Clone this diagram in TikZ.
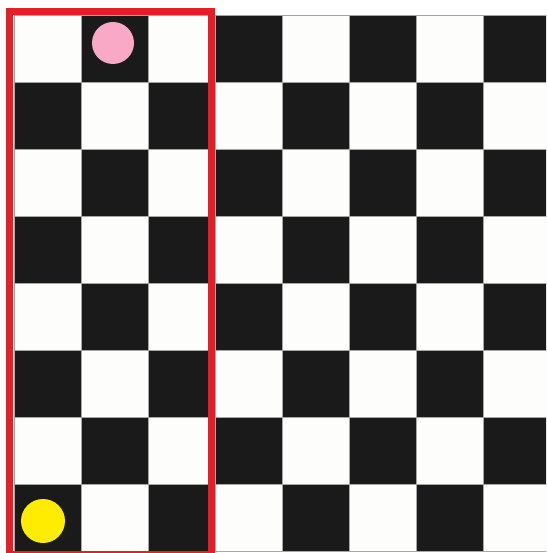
\documentclass[tikz,border=0pt]{standalone}
\definecolor{sqblack}{HTML}{1A1A1A}
\definecolor{sqwhite}{HTML}{FDFDFB}
\definecolor{boxred}{HTML}{E61E28}
\definecolor{pinkdot}{HTML}{F9A8C6}
\definecolor{yellowdot}{HTML}{FFEC00}
\begin{document}
\begin{tikzpicture}[x=1pt,y=-1pt,
  sq/.style={draw=gray!70,line width=0.7pt},
  dot/.style={circle,inner sep=0pt,minimum size=#1}]
\useasboundingbox (0,0) rectangle (546,553);
\clip (0,0) rectangle (546,553);
\fill[white] (0,0) rectangle (546,553);
\foreach \r in {0,...,7}{
  \foreach \c in {0,...,7}{
    \pgfmathtruncatemacro\parity{mod(\r+\c,2)}
    \ifodd\parity \def\sqcol{sqblack}\else \def\sqcol{sqwhite}\fi
    \filldraw[sq, fill=\sqcol] ({14+67.1*\c},{15+67.1*\r}) rectangle ++(67.1,67.1);
  }
}
\node[dot=42pt, fill=pinkdot] (pink) at (113,43) {};
\node[dot=44pt, fill=yellowdot] (yellow) at (43,521) {};
\draw[boxred, line width=6.5pt] (9.5,11.5) rectangle (211.5,554.5);
\end{tikzpicture}
\end{document}
